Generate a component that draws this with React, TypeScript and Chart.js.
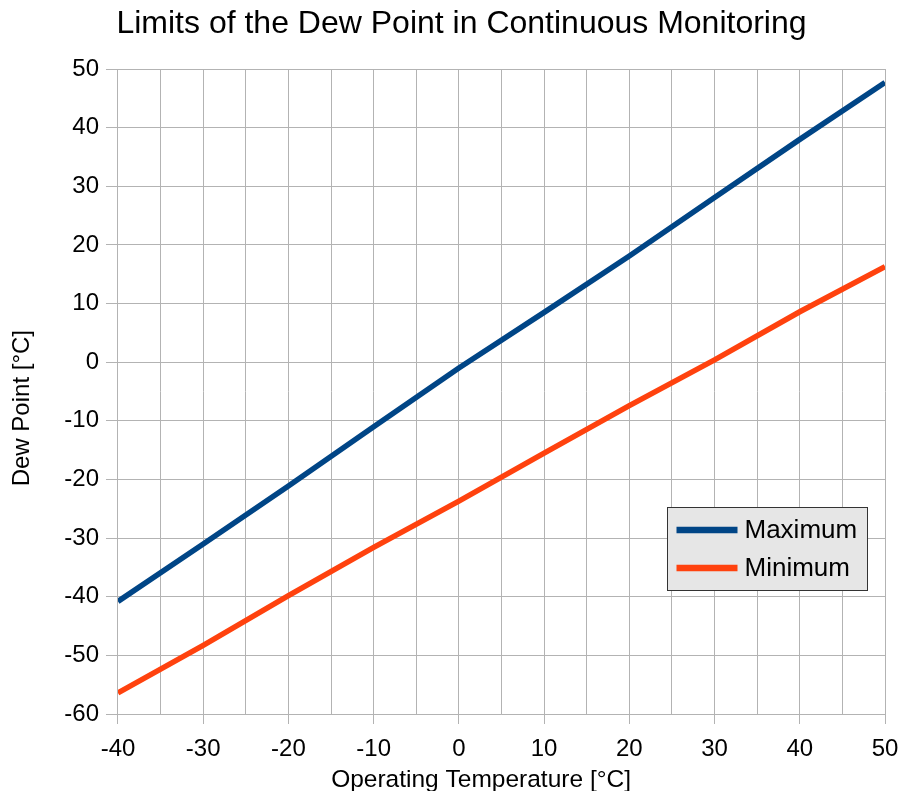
import React, { useEffect, useRef } from 'react';
import { Chart, registerables } from 'chart.js';

Chart.register(...registerables);

const temperatures = [-40, -30, -20, -10, 0, 10, 20, 30, 40, 50];
const maximumDewPoint = [-40.8, -31.0, -21.1, -11.0, -1.0, 8.5, 18.1, 28.1, 38.0, 47.7];
const minimumDewPoint = [-56.4, -48.3, -39.8, -31.6, -23.7, -15.5, -7.4, 0.4, 8.6, 16.3];
const seriesLabels = ['Maximum', 'Minimum'];
const seriesColors = ['#004586', '#ff420e'];
const chartTitle = 'Limits of the Dew Point in Continuous Monitoring';
const xAxisTitle = 'Operating Temperature [°C]';
const yAxisTitle = 'Dew Point [°C]';

const FONT = "'Liberation Sans', Arial, sans-serif";
const GRID = '#b3b3b3';

const legendBoxPlugin = {
  id: 'legendBox',
  afterDraw(chart: any) {
    const ctx = chart.ctx;
    const area = chart.chartArea;
    const boxRight = area.right - 17.5;
    const boxLeft = boxRight - 200;
    const boxTop = 507.5;
    const boxBottom = 590.5;
    ctx.save();
    ctx.fillStyle = '#e6e6e6';
    ctx.fillRect(boxLeft, boxTop, boxRight - boxLeft, boxBottom - boxTop);
    ctx.strokeStyle = '#333333';
    ctx.lineWidth = 1;
    ctx.strokeRect(boxLeft, boxTop, boxRight - boxLeft, boxBottom - boxTop);
    const rows = [530, 568];
    chart.data.datasets.forEach((ds: any, i: number) => {
      const y = rows[i];
      ctx.strokeStyle = ds.borderColor;
      ctx.lineWidth = 6.5;
      ctx.lineCap = 'butt';
      ctx.beginPath();
      ctx.moveTo(boxLeft + 9, y);
      ctx.lineTo(boxLeft + 70, y);
      ctx.stroke();
      ctx.fillStyle = '#000000';
      ctx.font = `26px ${FONT}`;
      ctx.textBaseline = 'middle';
      ctx.textAlign = 'left';
      ctx.fillText(ds.label, boxLeft + 77, y + 1);
    });
    ctx.restore();
  },
};

export default function App() {
  const ref = useRef<HTMLCanvasElement | null>(null);

  useEffect(() => {
    if (!ref.current) return;
    const chart = new Chart(ref.current, {
      type: 'line',
      data: {
        datasets: [
          {
            label: seriesLabels[0],
            data: temperatures.map((t, i) => ({ x: t, y: maximumDewPoint[i] })),
            borderColor: seriesColors[0],
            backgroundColor: seriesColors[0],
            borderWidth: 5.5,
            pointRadius: 0,
            tension: 0,
          },
          {
            label: seriesLabels[1],
            data: temperatures.map((t, i) => ({ x: t, y: minimumDewPoint[i] })),
            borderColor: seriesColors[1],
            backgroundColor: seriesColors[1],
            borderWidth: 5.5,
            pointRadius: 0,
            tension: 0,
          },
        ],
      },
      options: {
        responsive: false,
        animation: false,
        devicePixelRatio: 1,
        layout: { padding: { left: 38, right: 16, top: 0, bottom: 0 } },
        plugins: {
          legend: { display: false },
          tooltip: { enabled: false },
          title: {
            display: true,
            text: chartTitle,
            color: '#000000',
            font: { family: FONT, size: 32, weight: 'normal' },
            padding: { top: 4.8, bottom: 25.8 },
          },
        },
        scales: {
          x: {
            type: 'linear',
            min: -40,
            max: 50,
            afterFit: (scale: any) => {
              scale.paddingRight = 0;
            },
            grid: {
              color: GRID,
              lineWidth: 1,
              tickLength: 10,
              tickColor: (c: any) => (c.tick && c.tick.value % 10 === 0 ? GRID : 'rgba(0,0,0,0)'),
            },
            border: { color: GRID },
            ticks: {
              stepSize: 5,
              autoSkip: false,
              maxRotation: 0,
              padding: 11,
              color: '#000000',
              font: { family: FONT, size: 24 },
              callback: (v: any) => (Number(v) % 10 === 0 ? String(v) : ''),
            },
            title: {
              display: true,
              text: xAxisTitle + '      ',
              color: '#000000',
              font: { family: FONT, size: 24.5 },
              padding: { top: -9.6, bottom: 5.4 },
            },
          },
          y: {
            type: 'linear',
            min: -60,
            max: 50,
            grid: { color: GRID, lineWidth: 1, tickLength: 12, tickColor: GRID },
            border: { color: GRID },
            ticks: {
              stepSize: 10,
              padding: 7,
              color: '#000000',
              font: { family: FONT, size: 24 },
            },
            title: {
              display: true,
              text: yAxisTitle + '     ',
              color: '#000000',
              font: { family: FONT, size: 24 },
              padding: { top: -30.4, bottom: 20.9 },
            },
          },
        },
      },
      plugins: [legendBoxPlugin],
    });
    return () => chart.destroy();
  }, []);

  return (
    <div style={{ position: 'fixed', left: 0, top: 0, width: 901, height: 800, background: '#ffffff' }}>
      <canvas ref={ref} width={901} height={800} style={{ display: 'block' }} />
    </div>
  );
}
